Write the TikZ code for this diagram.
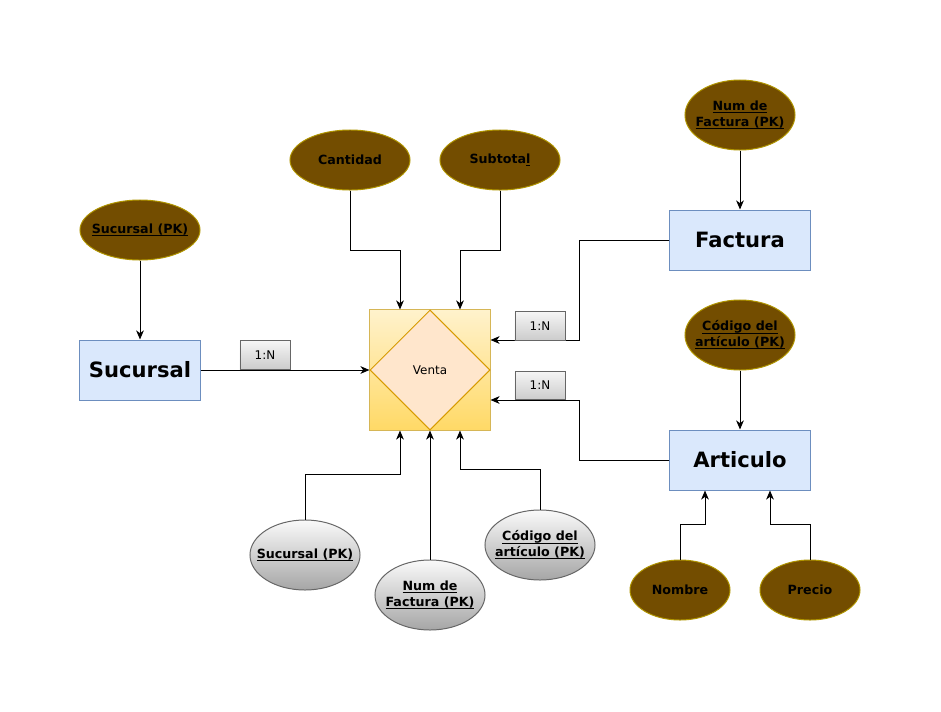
\documentclass[tikz,border=0pt]{standalone}
\usepackage{fontspec}
\setmainfont{DejaVu Sans}
\usetikzlibrary{positioning, calc, arrows.meta, shapes.geometric}
\definecolor{attrbrown}{RGB}{115,77,0}
\definecolor{attrgold}{RGB}{176,149,0}
\definecolor{entfill}{RGB}{218,232,252}
\definecolor{entline}{RGB}{108,142,191}
\definecolor{reltop}{RGB}{255,242,204}
\definecolor{relbot}{RGB}{255,217,102}
\definecolor{relline}{RGB}{214,182,86}
\definecolor{diafill}{RGB}{255,230,204}
\definecolor{dialine}{RGB}{215,155,0}
\definecolor{boxline}{RGB}{102,102,102}
\newcommand{\keyline}[1]{\underline{\smash{#1}}\vphantom{#1}}

\begin{document}
\begin{tikzpicture}[x=0.025cm, y=-0.025cm,
    entity/.style={rectangle, draw=entline, fill=entfill, line width=0.7pt,
      minimum width=3cm, minimum height=1.5cm, font=\bfseries\fontsize{15}{18}\selectfont},
    attrtext/.style={align=center, inner sep=0pt, font=\bfseries\fontsize{9}{11}\selectfont},
    attr/.style={ellipse, draw=attrgold, fill=attrbrown, line width=0.7pt, inner sep=0pt,
      label={[attrtext]center:#1}},
    keyattr/.style={ellipse, draw=boxline, top color=gray!4, bottom color=gray!70,
      line width=0.7pt, inner sep=0pt, label={[attrtext]center:#1}},
    wide/.style={minimum width=3cm, minimum height=1.5cm},
    mid/.style={minimum width=2.75cm, minimum height=1.75cm},
    small/.style={minimum width=2.5cm, minimum height=1.5cm},
    card/.style={rectangle, draw=boxline, top color=gray!8, bottom color=gray!40,
      line width=0.6pt, minimum width=1.25cm, minimum height=0.71cm, inner sep=0pt,
      font=\fontsize{8.5}{10}\selectfont},
    conn/.style={line width=0.7pt, -{Stealth[length=6.5pt, width=5.5pt, inset=2pt]}}
]
\useasboundingbox (0,0) rectangle (941,711);

% ============ RELATIONSHIP ============
\node[rectangle, draw=relline, top color=reltop, bottom color=relbot, line width=0.7pt,
  minimum size=3cm] (ventabox) at (430,370) {};
\node[diamond, draw=dialine, fill=diafill, line width=0.7pt, inner sep=0pt,
  minimum width=3cm, minimum height=3cm, font=\fontsize{8.5}{10}\selectfont] (venta) at (430,370) {Venta};

% ============ ENTITIES ============
\node[entity] (suc) at (140,370) {Sucursal};
\node[entity, minimum width=3.5cm] (fact) at (740,240) {Factura};
\node[entity, minimum width=3.5cm] (art) at (740,460) {Articulo};

% ============ ATTRIBUTES ============
\node[attr={\keyline{Sucursal (PK)}}, wide] (sucpk) at (140,230) {};
\node[attr={Cantidad}, wide] (cant) at (350,160) {};
\node[attr={Subtota\keyline{l}}, wide] (subt) at (500,160) {};
\node[attr={\keyline{Num de}\\\keyline{Factura (PK)}}, mid] (factpk) at (740,115) {};
\node[attr={\keyline{Código del}\\\keyline{artículo (PK)}}, mid] (artpk) at (740,335) {};
\node[attr={Nombre}, small] (nom) at (680,590) {};
\node[attr={Precio}, small] (prec) at (810,590) {};

% Keys carried by the relationship
\node[keyattr={\keyline{Sucursal (PK)}}, mid] (vsuc) at (305,555) {};
\node[keyattr={\keyline{Num de}\\\keyline{Factura (PK)}}, mid] (vfact) at (430,595) {};
\node[keyattr={\keyline{Código del}\\\keyline{artículo (PK)}}, mid] (vart) at (540,545) {};

% ============ CONNECTORS ============
\draw[conn] (sucpk.south) -- (suc.north);
\draw[conn] (factpk.south) -- (fact.north);
\draw[conn] (artpk.south) -- (art.north);

\draw[conn] (suc.east) -- (ventabox.west);
\draw[conn] (fact.west) -- ++(-90,0) |- ($(ventabox.east)+(0,-30)$);
\draw[conn] (art.west) -- ++(-90,0) |- ($(ventabox.east)+(0,30)$);

\draw[conn] (cant.south) -- ++(0,60) -| ($(ventabox.north)+(-30,0)$);
\draw[conn] (subt.south) -- ++(0,60) -| ($(ventabox.north)+(30,0)$);

\draw[conn] (vsuc.north) -- ++(0,-45) -| ($(ventabox.south)+(-30,0)$);
\draw[conn] (vfact.north) -- (ventabox.south);
\draw[conn] (vart.north) -- ++(0,-40) -| ($(ventabox.south)+(30,0)$);

\draw[conn] (nom.north) -- ++(0,-35) -| ($(art.south)+(-35,0)$);
\draw[conn] (prec.north) -- ++(0,-35) -| ($(art.south)+(30,0)$);

% Cardinalities
\node[card] (c1) at (265,355) {1:N};
\node[card] (c2) at (540,326) {1:N};
\node[card] (c3) at (540,385.5) {1:N};

\end{tikzpicture}
\end{document}
